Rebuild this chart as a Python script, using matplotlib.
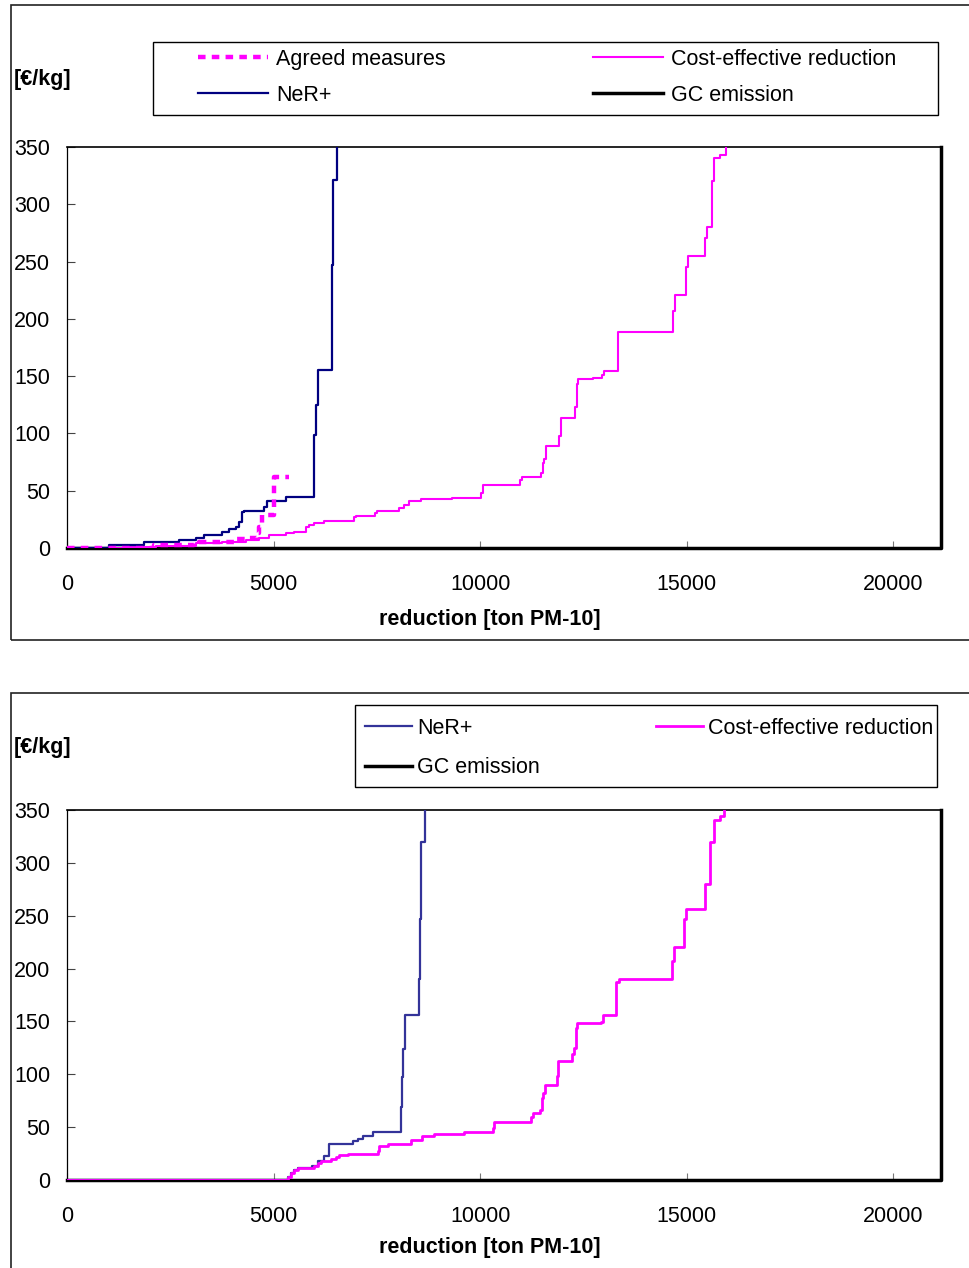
import matplotlib
matplotlib.use('Agg')
import matplotlib.pyplot as plt
from matplotlib.patches import Rectangle

plt.rcParams['font.family'] = ['Liberation Sans', 'DejaVu Sans']
plt.rcParams['font.size'] = 15.5

# top chart data (step curves, value holds from x onward)
ner_top_x = [0, 1017, 1865, 2712, 3116, 3317, 3760, 3923, 4084, 4165, 4245, 4286, 4770, 4850,
             5295, 5981, 6021, 6085, 6409, 6448, 6545]
ner_top_y = [0, 2.6, 5, 7, 8.7, 11.3, 13.7, 16.3, 18.6, 23, 31.7, 32.3, 35.5, 41.3,
             44.2, 98.6, 124.8, 155, 247, 321, 360]

agreed_x = [0, 2107, 3075, 3196, 4124, 4407, 4608, 4649, 4729, 5012, 5375]
agreed_y = [0, 2.6, 4, 5.5, 7.6, 9, 12.8, 18.6, 28.8, 62, 62]

cost_top_x = [0, 1420, 2146, 3116, 3760, 4326, 4649, 4891, 5295, 5496, 5779, 5860, 5981, 6223,
              6949, 6990, 7458, 7490, 8039, 8160, 8281, 8563, 9313, 10016, 10056, 10964, 11010,
              11469, 11509, 11550, 11590, 11913, 11953, 12292, 12332, 12373, 12736, 12946, 13002,
              13325, 14673, 14722, 14980, 15019, 15440, 15480, 15601, 15649, 15804, 15948]
cost_top_y = [0, 0.8, 2, 4, 5.5, 7, 9, 11.3, 12.8, 14.2, 18, 20, 22, 23.6,
              27.3, 28.2, 30.3, 32.3, 34.6, 37.5, 41, 42.5, 43.9, 47.7, 55, 59.3, 62.2,
              65.2, 73.9, 77.4, 89.3, 97.7, 113.2, 123.3, 142.8, 147.5, 148.6, 151, 154.7,
              188.8, 207, 220.8, 245.5, 254.8, 271, 280.4, 320.5, 340, 343, 360]

# bottom chart data
ner_bot_x = [0, 5358, 5418, 5497, 5601, 5940, 6062, 6223, 6344, 6933, 7054, 7151, 7393,
             8079, 8103, 8136, 8190, 8506, 8540, 8571, 8661]
ner_bot_y = [0, 3.2, 6.3, 9.5, 11.7, 13.2, 17.9, 22.7, 34, 37.1, 38.5, 41.9, 45.1,
             69.4, 97.7, 123.6, 156, 190, 246.6, 320, 360]

cost_bot_x = [0, 5358, 5418, 5497, 5601, 5981, 6062, 6142, 6384, 6505, 6586, 6788, 7514, 7554,
              7756, 8321, 8587, 8885, 9612, 10298, 10339, 11223, 11279, 11440, 11489, 11521,
              11570, 11852, 11891, 12230, 12271, 12311, 12352, 12933, 12974, 13296, 13361,
              14652, 14693, 14935, 14991, 15443, 15557, 15645, 15800, 15888]
cost_bot_y = [0, 3.2, 6.3, 9.5, 11.7, 13.6, 15.8, 17.7, 19.6, 22, 23.9, 24.6, 27.7, 32.4,
              34, 37.8, 41.9, 43.5, 45.1, 48.9, 55.2, 59.9, 63, 66.2, 77.3, 82,
              89.9, 98.4, 113, 119.2, 124.6, 143.5, 148.2, 149.8, 156, 187.6, 189.8,
              207.4, 220.7, 246.6, 256, 280, 320, 340.5, 344.3, 360]

gc_x = [0, 21150, 21150]
gc_y = [0, 0, 350]

x_ticks = [0, 5000, 10000, 15000, 20000]
y_ticks = [0, 50, 100, 150, 200, 250, 300, 350]

W, H = 969, 1268
fig = plt.figure(figsize=(W / 100, H / 100), dpi=100)


def fx(px):
    return px / W


def fy(py):
    return 1 - py / H


def setup(ax):
    ax.set_xlim(0, 21150)
    ax.set_ylim(0, 350)
    ax.set_xticks(x_ticks)
    ax.set_yticks(y_ticks)
    ax.spines['right'].set_visible(False)
    ax.spines['bottom'].set_visible(False)
    ax.spines['top'].set_linewidth(1.2)
    ax.spines['left'].set_linewidth(0.9)
    ax.tick_params(axis='x', direction='in', length=5, color='#777777', pad=19)
    ax.tick_params(axis='y', direction='in', length=6, color='#444444', pad=12)


ax1 = fig.add_axes([fx(67), fy(548), fx(941) - fx(67), fy(147) - fy(548)])
setup(ax1)
h_gc, = ax1.plot(gc_x, gc_y, color='black', lw=2.5, clip_on=False, zorder=2)
h_cost, = ax1.plot(cost_top_x, cost_top_y, color='#FF00FF', lw=1.5, drawstyle='steps-post', zorder=3)
h_ner, = ax1.plot(ner_top_x, ner_top_y, color='#000080', lw=1.6, drawstyle='steps-post', zorder=4)
h_agr, = ax1.plot(agreed_x, agreed_y, color='#FF00FF', lw=3.2, ls=(0, (1.7, 1.4)),
                  drawstyle='steps-post', zorder=5)

ax2 = fig.add_axes([fx(67), fy(1180), fx(941) - fx(67), fy(810) - fy(1180)])
setup(ax2)
g_gc, = ax2.plot(gc_x, gc_y, color='black', lw=2.5, clip_on=False, zorder=2)
g_ner, = ax2.plot(ner_bot_x, ner_bot_y, color='#333399', lw=1.6, drawstyle='steps-post', zorder=3)
g_cost, = ax2.plot(cost_bot_x, cost_bot_y, color='#FF00FF', lw=2, drawstyle='steps-post', zorder=4)

# axis titles
for yl, xl in [(80, 619), (748, 1248)]:
    fig.text(fx(14), fy(yl), '[€/kg]', fontweight='bold', ha='left', va='center')
    fig.text(fx(490), fy(xl), 'reduction [ton PM-10]', fontweight='bold', ha='center', va='center')

# legends
fig.legend([h_agr, h_ner, h_cost, h_gc],
           ['Agreed measures', 'NeR+', 'Cost-effective reduction', 'GC emission'],
           ncol=2, loc='upper left', bbox_to_anchor=(fx(198), fy(49)), frameon=False,
           handlelength=3.25, handletextpad=0.37, columnspacing=6.87, borderpad=0,
           borderaxespad=0, labelspacing=0.69)
fig.add_artist(Rectangle((fx(153), fy(115)), fx(938) - fx(153), fy(42) - fy(115),
                         transform=fig.transFigure, fill=False, ec='black', lw=1))

fig.legend([g_ner, g_gc, g_cost],
           ['NeR+', 'GC emission', 'Cost-effective reduction'],
           ncol=2, loc='upper left', bbox_to_anchor=(fx(365), fy(718)), frameon=False,
           handlelength=2.2, handletextpad=0.23, columnspacing=5.39, borderpad=0,
           borderaxespad=0, labelspacing=0.85)
fig.add_artist(Rectangle((fx(355), fy(787)), fx(937) - fx(355), fy(705) - fy(787),
                         transform=fig.transFigure, fill=False, ec='black', lw=1))

# outer chart frames
fig.add_artist(Rectangle((fx(11), fy(640)), 1.0, fy(5) - fy(640),
                         transform=fig.transFigure, fill=False, ec='#222222', lw=1.2))
fig.add_artist(Rectangle((fx(11), -0.1), 1.0, fy(693) + 0.1,
                         transform=fig.transFigure, fill=False, ec='#222222', lw=1.2))

fig.savefig('out.png', dpi=100)
